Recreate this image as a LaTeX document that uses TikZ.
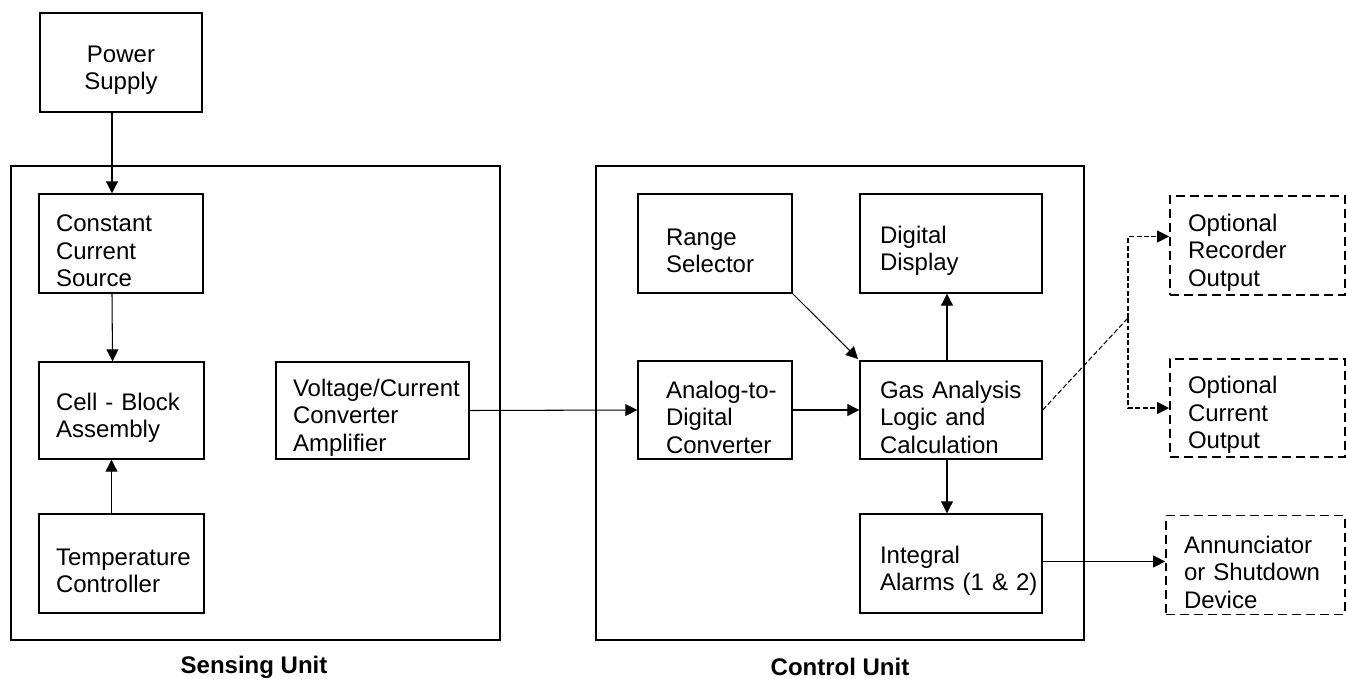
\documentclass[tikz,border=0pt]{standalone}
\usepackage{fontspec}
\setmainfont{Liberation Sans}
\usetikzlibrary{arrows.meta}
\usetikzlibrary{calc}
\definecolor{color_block_line}{HTML}{000000}
\definecolor{color_block_text}{HTML}{000000}
\def\blocklinewidth{0.8pt}
\def\wirelinewidth{0.6pt}
\def\blockheight{1.98cm}
\def\blocktextstrut{18pt}
\def\blockfont{\fontsize{13.66}{15.6}\selectfont}
\hyphenpenalty=10000
\exhyphenpenalty=10000

\begin{document}
\begin{tikzpicture}[x=0.02cm,y=-0.02cm,
    blk/.style={draw=color_block_line, line width=\blocklinewidth, text=color_block_text,
        font=\blockfont, align=left, inner xsep=0.34cm, inner ysep=0pt, minimum height=\blockheight,
        execute at begin node={\rule{0pt}{\blocktextstrut}}},
    optblk/.style={blk, dash pattern=on 0.18cm off 0.1cm, line width=1pt, inner xsep=0.36cm},
    unitbox/.style={draw=color_block_line, line width=\blocklinewidth, inner sep=0pt},
    unitlbl/.style={font=\blockfont\bfseries, text=color_block_text},
    wire/.style={draw=color_block_line, line width=\wirelinewidth, -{Triangle[length=0.24cm,width=0.24cm]}},
    optwire/.style={wire, dash pattern=on 0.1cm off 0.05cm}]
        \useasboundingbox (0,0) rectangle (1346,679);
        % the two units
        \node[unitbox, minimum width=9.78cm, minimum height=9.48cm] (sensing) at (255.5,403) {};
        \node[unitbox, minimum width=9.76cm, minimum height=9.48cm] (control) at (840,403) {};
        \node[unitlbl] (sensinglbl) at (254,667) {Sensing Unit};
        \node[unitlbl] (controllbl) at (840,667) {Control Unit};
        % sensing unit blocks
        \node[blk, align=center, inner xsep=0pt, text width=3.24cm, minimum width=3.24cm] (pwr) at (121,62.5) {Power\\Supply};
        \node[blk, text width=2.6cm, minimum width=3.28cm] (ccs) at (121,243.5) {Constant\\Current\\Source};
        \node[blk, text width=2.62cm, minimum width=3.3cm, minimum height=1.94cm] (cell) at (121.5,410.5) {Cell - Block\\Assembly};
        \node[blk, text width=2.62cm, minimum width=3.3cm] (temp) at (121.5,563.5) {\mbox{Temperature}\\Controller};
        \node[blk, text width=3.18cm, minimum width=3.86cm, minimum height=1.94cm] (vca) at (372.5,410.5) {\mbox{Voltage/Current}\\Converter\\Amplifier};
        % control unit blocks
        \node[blk, inner xsep=0.56cm, text width=1.96cm, minimum width=3.08cm] (rng) at (715,243.5) {Range\\Selector};
        \node[blk, inner xsep=0.56cm, text width=1.96cm, minimum width=3.08cm, minimum height=1.96cm] (adc) at (715,410) {\mbox{Analog-to-}\\Digital\\Converter};
        \node[blk, inner xsep=0.4cm, text width=2.84cm, minimum width=3.64cm] (disp) at (951,243.5) {Digital\\Display};
        \node[blk, inner xsep=0.4cm, text width=2.84cm, minimum width=3.64cm, minimum height=1.96cm] (gas) at (951,410) {\mbox{Gas Analysis}\\Logic and\\Calculation};
        \node[blk, inner xsep=0.4cm, text width=2.84cm, minimum width=3.64cm] (alarm) at (951,563.5) {Integral\\\mbox{Alarms (1 \& 2)}};
        % optional outputs
        \node[optblk, text width=2.78cm, minimum width=3.5cm] (rec) at (1257.5,245.5) {Optional\\Recorder\\Output};
        \node[optblk, text width=2.78cm, minimum width=3.5cm, minimum height=1.96cm] (cur) at (1257.5,408) {Optional\\Current\\Output};
        \node[optblk, text width=2.86cm, minimum width=3.58cm] (ann) at (1255.5,565) {Annunciator\\or Shutdown\\Device};
        % connections
        \draw[wire] ([xshift=-0.18cm]pwr.south) -- ([xshift=-0.18cm]ccs.north);
        \draw[wire] ([xshift=-0.18cm]ccs.south) -- ([xshift=-0.18cm]cell.north);
        \draw[wire] ([xshift=-0.2cm]temp.north) -- ([xshift=-0.2cm]cell.south);
        \draw[wire] (vca.east) -- (adc.west);
        \draw[wire] (adc.east) -- (gas.west);
        \draw[wire, shorten >=1pt] (rng.south east) -- (gas.north west);
        \draw[wire] ([xshift=-0.08cm]gas.north) -- ([xshift=-0.08cm]disp.south);
        \draw[wire] ([xshift=-0.08cm]gas.south) -- ([xshift=-0.08cm]alarm.north);
        \draw[wire] ([yshift=0.04cm]alarm.east) -- ([yshift=0.04cm]alarm.east -| ann.west);
        \coordinate (split) at (1128,318);
        \draw[draw=color_block_line, line width=\wirelinewidth, dash pattern=on 0.1cm off 0.05cm] (gas.east) -- (split);
        \draw[optwire] (split) |- ([yshift=0.18cm]rec.west);
        \draw[optwire] (split) |- (cur.west);
    \end{tikzpicture}
\end{document}
